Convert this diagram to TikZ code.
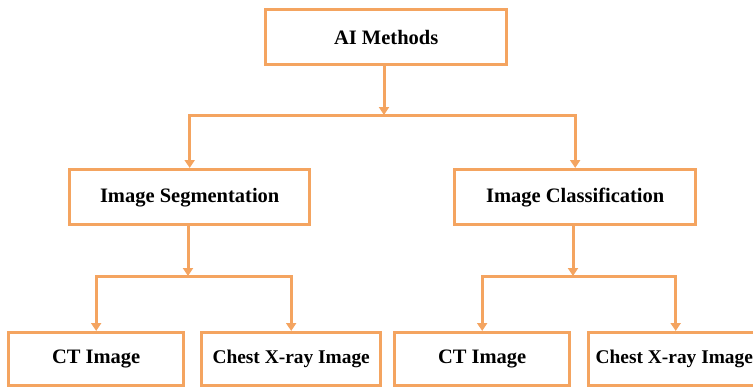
\documentclass[tikz,border=0pt]{standalone}
\usepackage{fontspec}
\setmainfont{Liberation Serif}
\usetikzlibrary{arrows.meta}
\definecolor{boxor}{RGB}{244,164,96}
\tikzset{
  x=1pt,y=-1pt,
  box/.style={draw=boxor,line width=3.4pt,fill=white,font=\bfseries\fontsize{20.5}{22}\selectfont,inner sep=0pt,anchor=north west},
  small/.style={font=\bfseries\fontsize{19.4}{21}\selectfont},
  conn/.style={draw=boxor,line width=3pt},
  arr/.style={conn,-{Triangle[width=10pt,length=8pt]}}
}
\begin{document}
\begin{tikzpicture}
\useasboundingbox (0,0) rectangle (753,386);
\node[box,minimum width=241pt,minimum height=55pt] (ai) at (264,8) {AI Methods};
\node[box,minimum width=240pt,minimum height=55pt] (seg) at (68,168) {Image Segmentation};
\node[box,minimum width=241pt,minimum height=55pt] (cls) at (453,168) {Image Classification};
\node[box,minimum width=175pt,minimum height=53pt] (ct1) at (7,331) {CT Image};
\node[box,small,minimum width=179pt,minimum height=53pt] (cx1) at (200,331) {Chest X-ray Image};
\node[box,minimum width=175pt,minimum height=53pt] (ct2) at (393,331) {CT Image};
\node[box,small,minimum width=174pt,minimum height=53pt] (cx2) at (587,331) {\makebox[166pt][l]{\hspace*{3pt}Chest X-ray Image}};
\coordinate (j0) at (384,115);
\coordinate (j1) at (188,276);
\coordinate (j2) at (573,276);
\draw[arr] (ai.south -| j0) -- (j0);
\draw[conn,line cap=rect] (seg.north |- j0) -- (cls.north |- j0);
\draw[arr] (seg.north |- j0) -- (seg.north);
\draw[arr] (cls.north |- j0) -- (cls.north);
\draw[arr] (seg.south -| j1) -- (j1);
\draw[conn,line cap=rect] (ct1.north |- j1) -- (cx1.north |- j1);
\draw[arr] (ct1.north |- j1) -- (ct1.north);
\draw[arr] (cx1.north |- j1) -- (cx1.north);
\draw[arr] (cls.south -| j2) -- (j2);
\draw[conn,line cap=rect] (ct2.north |- j2) -- (cx2.north |- j2);
\draw[arr] (ct2.north |- j2) -- (ct2.north);
\draw[arr] (cx2.north |- j2) -- (cx2.north);
\end{tikzpicture}
\end{document}
